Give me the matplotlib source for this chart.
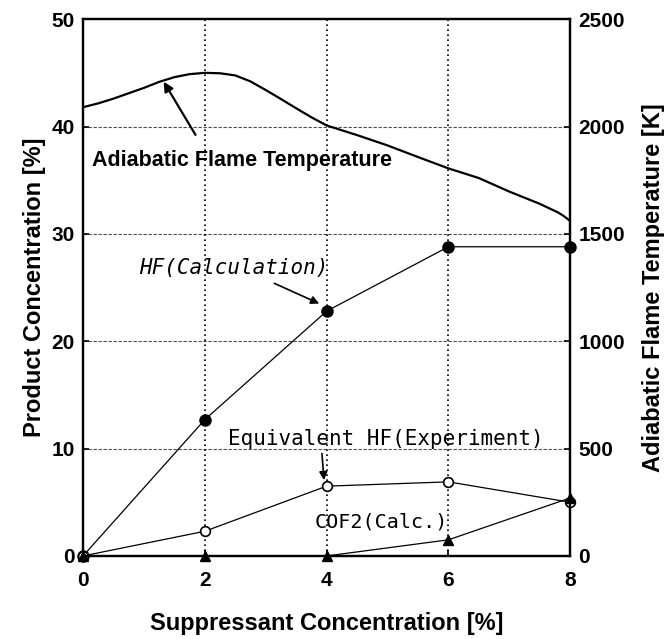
import numpy as np
import matplotlib.pyplot as plt

# suppressant concentration [%]
conc = [0, 2, 4, 6, 8]
hf_calc = [0, 12.7, 22.8, 28.8, 28.8]
hf_exp = [0, 2.3, 6.5, 6.9, 5.0]
cof2_calc = [0, 0, 0, 1.5, 5.4]

# adiabatic flame temperature [K]
t_conc = [0, 0.25, 0.5, 0.75, 1, 1.25, 1.5, 1.75, 2, 2.25, 2.5, 2.75, 3, 3.25, 3.5, 3.75, 4,
          4.5, 5, 5.5, 6, 6.5, 7, 7.5, 7.8, 7.9, 8]
t_flame = [2090, 2108, 2130, 2155, 2180, 2208, 2230, 2244, 2250, 2248, 2238, 2210, 2170,
           2128, 2085, 2043, 2005, 1960, 1912, 1858, 1805, 1760, 1697, 1640, 1600, 1582, 1560]

plt.rcParams['font.family'] = ['Liberation Sans', 'DejaVu Sans']
mono = 'DejaVu Sans Mono'

fig = plt.figure(figsize=(6.7, 6.39), dpi=100)
ax = fig.add_axes([0.124, 0.130, 0.727, 0.840])
ax2 = ax.twinx()

ax.plot(conc, hf_calc, '-o', color='k', lw=0.9, ms=8, mfc='k', zorder=3, clip_on=False)
ax.plot(conc, hf_exp, '-o', color='k', lw=0.9, ms=7, mfc='white', mew=1.2, zorder=3, clip_on=False)
ax.plot(conc, cof2_calc, '-^', color='k', lw=0.9, ms=7, mfc='k', zorder=3, clip_on=False)
ax2.plot(t_conc, t_flame, '-', color='k', lw=1.6)

ax.set_xlim(0, 8)
ax.set_ylim(0, 50)
ax2.set_ylim(0, 2500)
ax.set_xticks([0, 2, 4, 6, 8])
ax.set_yticks([0, 10, 20, 30, 40, 50])
ax2.set_yticks([0, 500, 1000, 1500, 2000, 2500])

# grid
for y in [10, 20, 30, 40]:
    ax.axhline(y, color='k', lw=0.8, ls=(0, (3, 1.5)), alpha=0.7, zorder=1)
for x in [2, 4, 6]:
    ax.axvline(x, color='k', lw=1.2, ls=(0, (1, 2)), zorder=1)

for a in (ax, ax2):
    a.tick_params(direction='in', length=4, width=1.2, labelsize=15, pad=6)
    for lab in a.get_xticklabels() + a.get_yticklabels():
        lab.set_fontweight('bold')
    for s in a.spines.values():
        s.set_linewidth(1.6)
ax.tick_params(axis='x', pad=11)

ax.set_xlabel('Suppressant Concentration [%]', fontsize=17, fontweight='bold', labelpad=16)
ax.set_ylabel('Product Concentration [%]', fontsize=17, fontweight='bold', labelpad=4)
ax2.set_ylabel('Adiabatic Flame Temperature [K]', fontsize=17, fontweight='bold', labelpad=12)

# annotations
ax.annotate('', xy=(1.30, 44.4), xytext=(1.87, 39.0),
            arrowprops=dict(arrowstyle='-|>', color='k', lw=1.6, mutation_scale=14))
ax.text(0.15, 36.8, 'Adiabatic Flame Temperature', fontsize=15.5, fontweight='bold', va='center')

ax.annotate('', xy=(3.92, 23.4), xytext=(3.1, 25.5),
            arrowprops=dict(arrowstyle='-|>', color='k', lw=1.2, mutation_scale=12))
ax.text(0.92, 26.8, 'HF(Calculation)', fontsize=15, family=mono, style='italic', va='center')

ax.annotate('', xy=(3.96, 6.8), xytext=(3.92, 9.8),
            arrowprops=dict(arrowstyle='-|>', color='k', lw=1.2, mutation_scale=12))
ax.text(2.38, 10.9, 'Equivalent HF(Experiment)', fontsize=15, family=mono, va='center')

ax.text(3.8, 3.2, 'COF2(Calc.)', fontsize=14.5, family=mono, va='center')

fig.savefig('out.png', dpi=100)
